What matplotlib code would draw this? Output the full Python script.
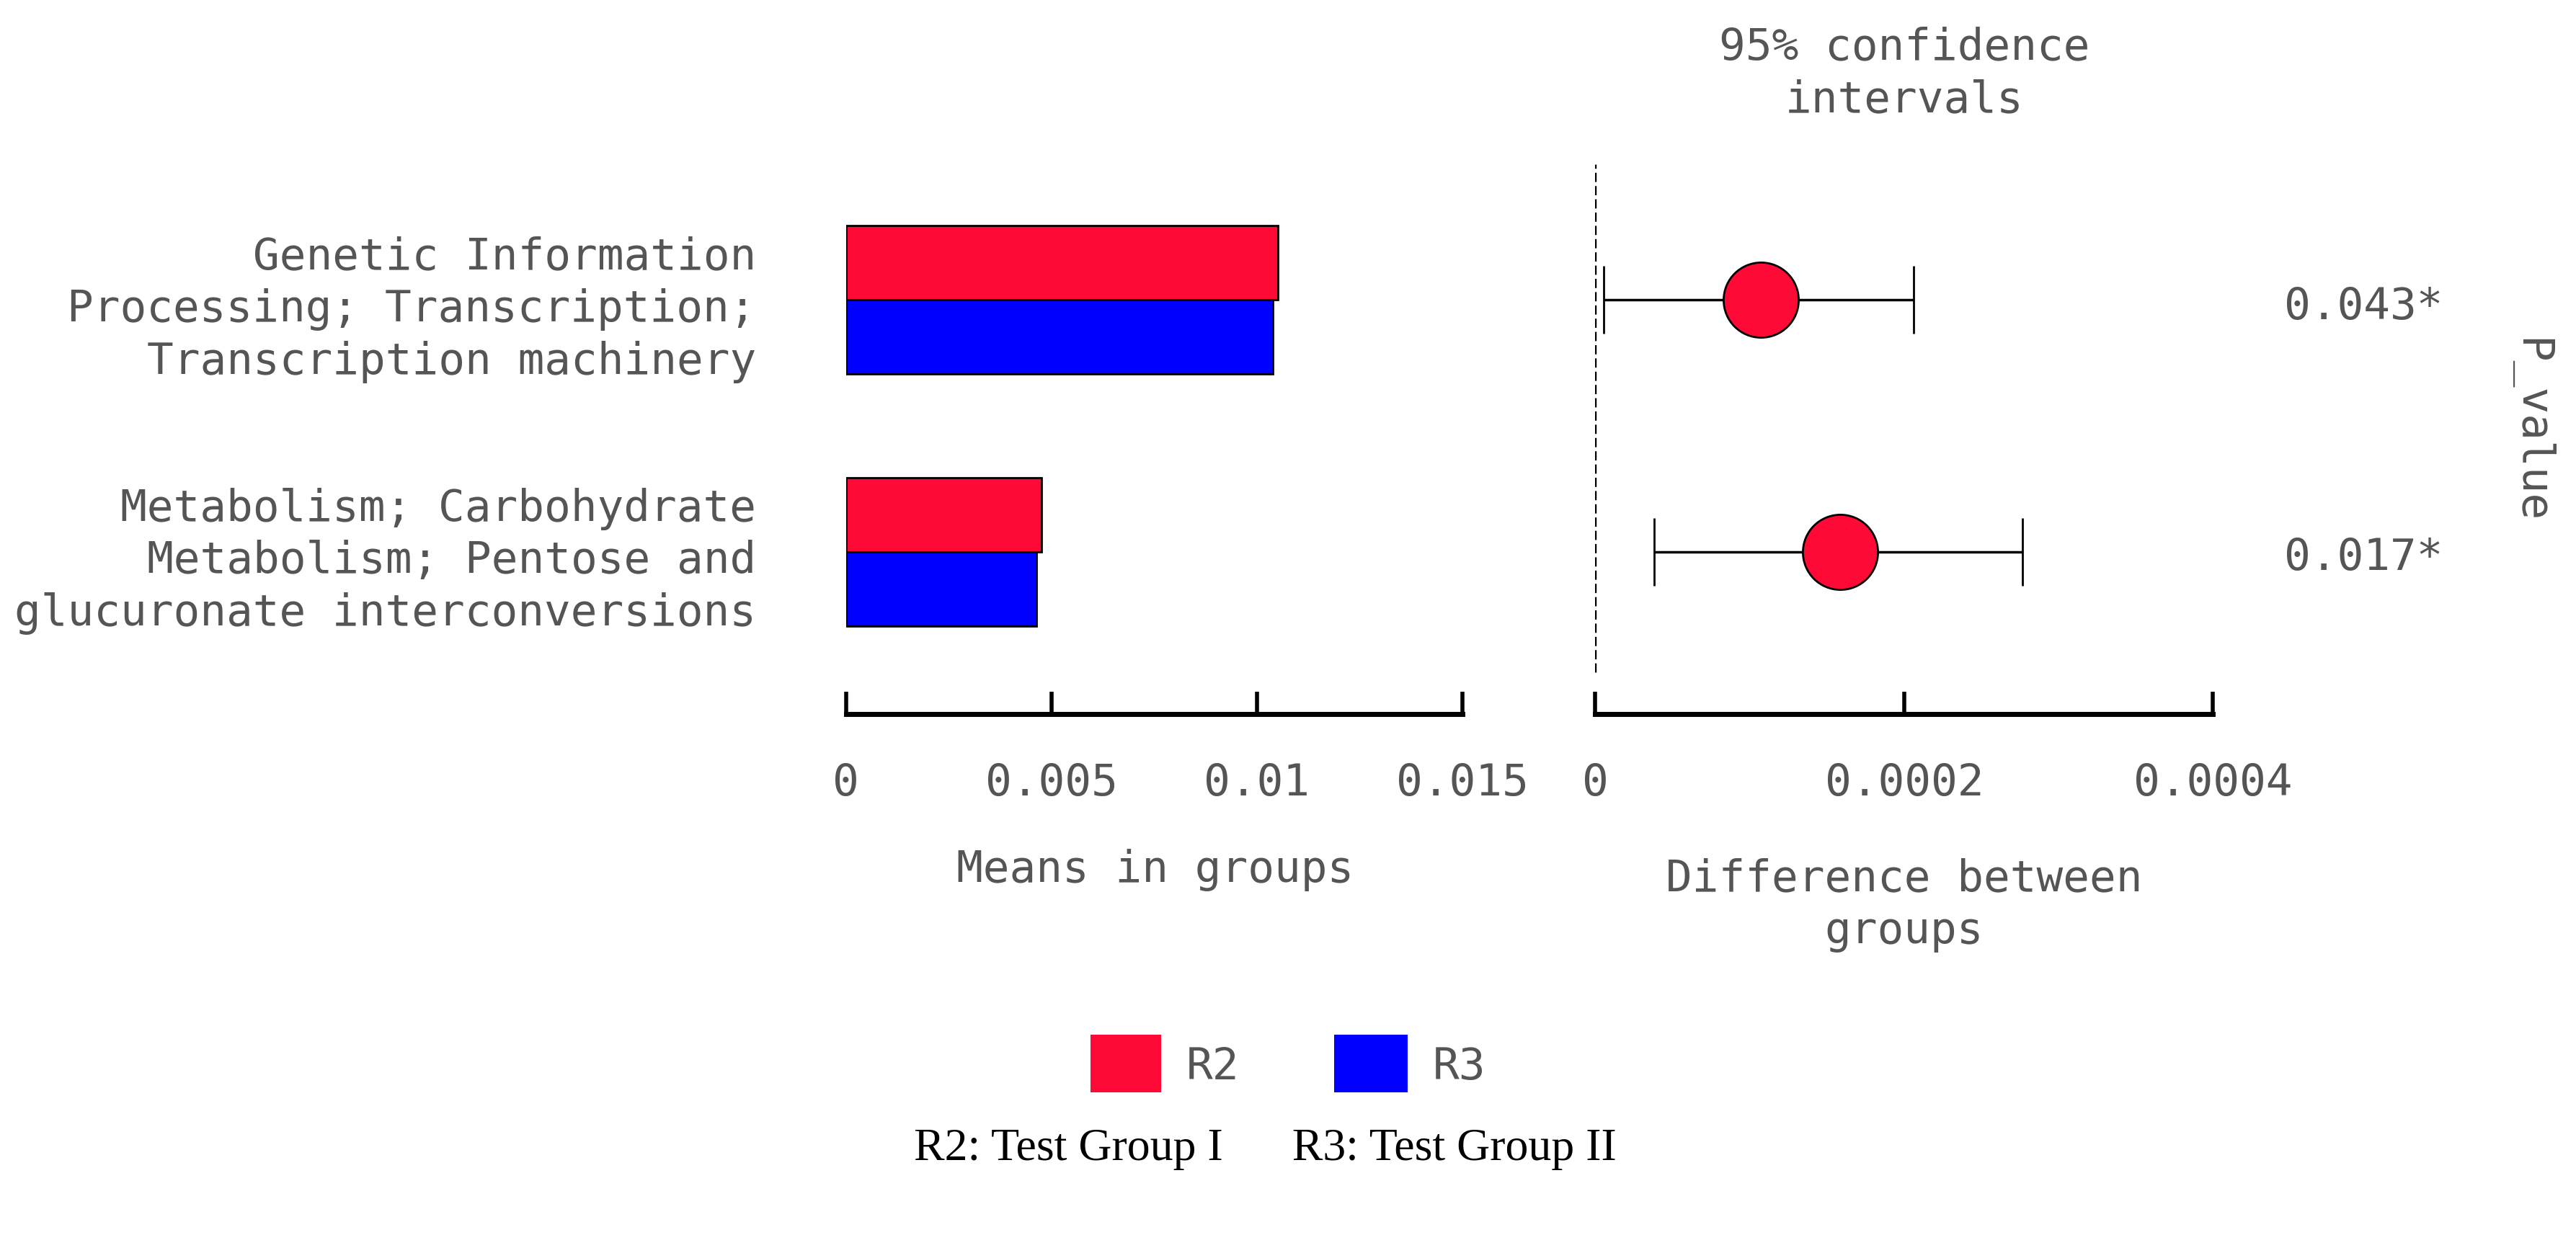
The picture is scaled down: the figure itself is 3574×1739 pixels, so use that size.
import matplotlib
matplotlib.use("Agg")
import matplotlib.pyplot as plt
from matplotlib.patches import Rectangle

categories = ["Genetic Information\nProcessing; Transcription;\nTranscription machinery",
              "Metabolism; Carbohydrate\nMetabolism; Pentose and\nglucuronate interconversions"]
r2_means = [0.01052, 0.00476]
r3_means = [0.0104, 0.00464]
diff = [0.0001074, 0.0001585]
ci_low = [0.0000053, 0.0000383]
ci_high = [0.000206, 0.0002766]
pvals = ["0.043*", "0.017*"]
left_ticks = [0, 0.005, 0.01, 0.015]
left_ticklabels = ["0", "0.005", "0.01", "0.015"]
right_ticks = [0, 0.0002, 0.0004]
right_ticklabels = ["0", "0.0002", "0.0004"]

RED = "#FF0A37"; BLUE = "#0000FF"; TXT = "#555555"
W, H = 1568, 763
FS = 44
mono = "DejaVu Sans Mono"

fig = plt.figure(figsize=(35.74, 17.39), dpi=100)
fig.patch.set_facecolor("white")

def fx(x): return x / W
def fy(y): return 1 - y / H

ypos = [1, 0]
ylim = (-0.647, 1.54)
bh = 0.295

axl = fig.add_axes([fx(515), fy(435), fx(890) - fx(515), fy(100) - fy(435)])
axl.barh([y + bh / 2 for y in ypos], r2_means, height=bh, color=RED, edgecolor="black", linewidth=2)
axl.barh([y - bh / 2 for y in ypos], r3_means, height=bh, color=BLUE, edgecolor="black", linewidth=2)
axl.set_xlim(0, 0.015); axl.set_ylim(*ylim)
axl.set_xticks(left_ticks); axl.set_xticklabels(left_ticklabels)
axl.set_yticks(ypos); axl.set_yticklabels(categories, linespacing=1.3)

axr = fig.add_axes([fx(971), fy(435), fx(1347) - fx(971), fy(100) - fy(435)])
for y, d, lo, hi in zip(ypos, diff, ci_low, ci_high):
    axr.errorbar([d], [y], xerr=[[d - lo], [hi - d]], fmt="o", color="black", ecolor="black",
                 elinewidth=2.5, capsize=34, capthick=2.5, markersize=75,
                 markerfacecolor=RED, markeredgecolor="black", markeredgewidth=2)
axr.axvline(0, ymin=0.077, ymax=1.0, color="black", linestyle="--", linewidth=2.5)
axr.set_xlim(0, 0.0004); axr.set_ylim(*ylim)
axr.set_xticks(right_ticks); axr.set_xticklabels(right_ticklabels)
axr.set_yticks([])

for ax in (axl, axr):
    for s in ("top", "right", "left"):
        ax.spines[s].set_visible(False)
    ax.spines["bottom"].set_linewidth(5)
    ax.tick_params(axis="x", direction="in", length=22, width=4, pad=48,
                   labelsize=FS, labelcolor=TXT)
    ax.tick_params(axis="y", length=0, pad=90, labelsize=FS, labelcolor=TXT)
    for lab in ax.get_xticklabels() + ax.get_yticklabels():
        lab.set_fontfamily(mono)

for y, p in zip(ypos, pvals):
    fig.text(fx(1487), fy(187 if y == 1 else 340), p, ha="right", va="center",
             fontsize=FS, color=TXT, family=mono)
fig.text(fx(1540), fy(262), "P_value", rotation=-90, ha="center", va="center",
         fontsize=FS, color=TXT, family=mono)
fig.text(fx(1159), fy(45), "95% confidence\nintervals", ha="center", va="center",
         fontsize=FS, color=TXT, family=mono, linespacing=1.3)
fig.text(fx(703), fy(530), "Means in groups", ha="center", va="center",
         fontsize=FS, color=TXT, family=mono)
fig.text(fx(1159), fy(551), "Difference between\ngroups", ha="center", va="center",
         fontsize=FS, color=TXT, family=mono, linespacing=1.3)

fig.patches.append(Rectangle((fx(664), fy(665)), fx(43), fy(630) - fy(665),
                             transform=fig.transFigure, facecolor=RED, edgecolor="none"))
fig.patches.append(Rectangle((fx(812), fy(665)), fx(45), fy(630) - fy(665),
                             transform=fig.transFigure, facecolor=BLUE, edgecolor="none"))
fig.text(fx(722), fy(650), "R2", ha="left", va="center", fontsize=FS, color=TXT, family=mono)
fig.text(fx(872), fy(650), "R3", ha="left", va="center", fontsize=FS, color=TXT, family=mono)
fig.text(fx(770), fy(700), "R2: Test Group I      R3: Test Group II", ha="center", va="center",
         fontsize=46, color="black", family="Liberation Serif")

fig.savefig("out.png", dpi=100, facecolor="white")
